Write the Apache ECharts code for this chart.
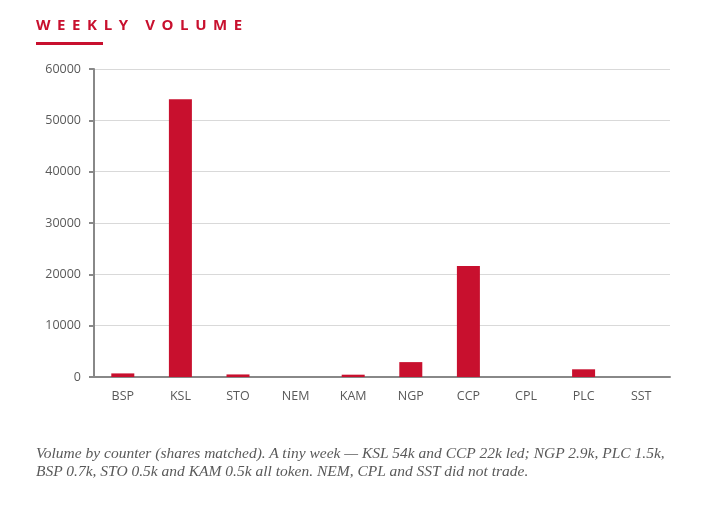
<!DOCTYPE html>
<html>
<head>
<meta charset="utf-8">
<script src="https://cdn.jsdelivr.net/npm/echarts@6/dist/echarts.min.js"></script>
<style>
  body { margin: 0; background: #fff; }
  #wrap { position: relative; width: 712px; height: 512px; }
  #chart { position: absolute; left: 0; top: 0; width: 712px; height: 512px; }
  #title {
    position: absolute; left: 36px; top: 14px;
    font: 700 15px "Open Sans", sans-serif; letter-spacing: 6.6px;
    color: #c8102e;
  }
  #rule { position: absolute; left: 36px; top: 42px; width: 67px; height: 3px; background: #c8102e; }
  #caption {
    position: absolute; left: 36px; top: 444px; width: 640px;
    font: italic 15.5px "Liberation Serif", serif; line-height: 18px;
    color: #595959;
  }
</style>
</head>
<body>
<div id="wrap">
  <div id="chart"></div>
  <div id="title">WEEKLY VOLUME</div>
  <div id="rule"></div>
  <div id="caption">Volume by counter (shares matched). A tiny week — KSL 54k and CCP 22k led; NGP 2.9k, PLC 1.5k, BSP 0.7k, STO 0.5k and KAM 0.5k all token. NEM, CPL and SST did not trade.</div>
</div>
<script>
// counters and weekly volume (shares matched)
var counters = ["BSP", "KSL", "STO", "NEM", "KAM", "NGP", "CCP", "CPL", "PLC", "SST"];
var volume = [700, 54100, 500, 0, 450, 2900, 21600, 0, 1500, 0];

var myChart = echarts.init(document.getElementById("chart"));

var option = {
    animation: false,
    grid: { left: 94, right: 42, top: 69, bottom: 135 },
    xAxis: {
        type: "category",
        data: counters,
        axisLine: { lineStyle: { color: "#888", width: 2 } },
        axisTick: { length: 5, lineStyle: { color: "#888", width: 2 } },
        axisLabel: { color: "#595959", fontFamily: "Open Sans", fontSize: 12.5, margin: 13 },
    },
    yAxis: {
        type: "value",
        min: 0,
        max: 60000,
        interval: 10000,
        axisLine: { show: true, lineStyle: { color: "#888", width: 2 } },
        axisTick: { show: true, length: 5, lineStyle: { color: "#888", width: 2 } },
        axisLabel: {
            color: "#595959",
            fontFamily: "Open Sans",
            fontSize: 12.5,
            margin: 13,
            formatter: function (v) { return String(v); },
        },
        splitLine: { lineStyle: { color: "#d9d9d9" } },
    },
    series: [
        {
            type: "bar",
            data: volume,
            barWidth: 23,
            itemStyle: { color: "#c8102e" },
        },
    ],
};
myChart.setOption(option);
</script>
</body>
</html>
